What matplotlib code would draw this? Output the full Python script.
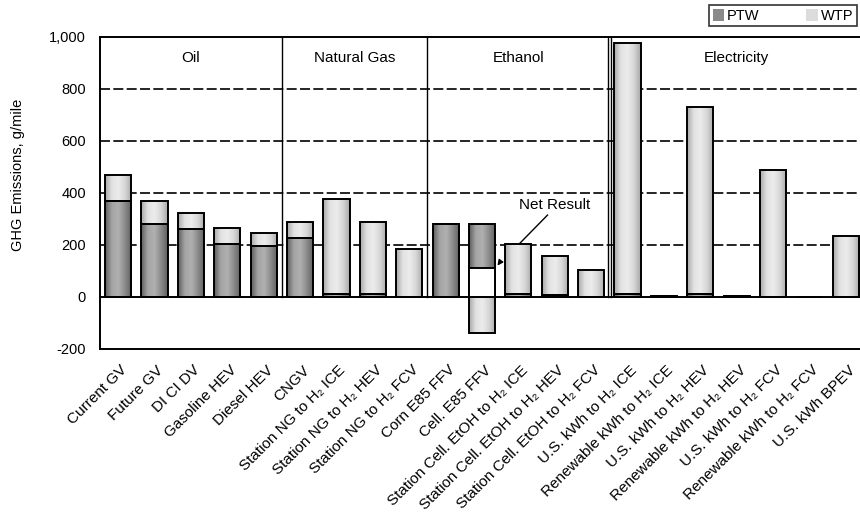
import matplotlib
matplotlib.use('Agg')
import matplotlib.pyplot as plt
import numpy as np
from matplotlib.patches import Patch
from matplotlib.colors import LinearSegmentedColormap

plt.rcParams['font.family'] = ['Liberation Sans', 'DejaVu Sans']

# Data (g/mile)
labels = ['Current GV', 'Future GV', 'DI CI DV', 'Gasoline HEV', 'Diesel HEV',
          'CNGV', 'Station NG to H₂ ICE', 'Station NG to H₂ HEV', 'Station NG to H₂ FCV',
          'Corn E85 FFV', 'Cell. E85 FFV', 'Station Cell. EtOH to H₂ ICE',
          'Station Cell. EtOH to H₂ HEV', 'Station Cell. EtOH to H₂ FCV',
          'U.S. kWh to H₂ ICE', 'Renewable kWh to H₂ ICE', 'U.S. kWh to H₂ HEV',
          'Renewable kWh to H₂ HEV', 'U.S. kWh to H₂ FCV', 'Renewable kWh to H₂ FCV',
          'U.S. kWh BPEV']
ptw = [371, 281, 261, 203, 198, 228, 10, 10, 0, 282, 282, 10, 8, 0, 10, 5, 10, 4, 0, 0, 0]
wtp = [100, 90, 63, 64, 48, 62, 367, 280, 186, 0, -140, 195, 149, 105, 968, 0, 719, 0, 489, 0, 234]
net_cell_e85 = 111
net_index = 10

groups = ['Oil', 'Natural Gas', 'Ethanol', 'Electricity']
group_bounds = [-0.5, 4.5, 8.5, 13.5, 20.5]

dark_cmap = LinearSegmentedColormap.from_list('dk', ['#5e5e5e', '#a4a4a4', '#b0b0b0', '#8a8a8a', '#5e5e5e'])
light_cmap = LinearSegmentedColormap.from_list('lt', ['#a8a8a8', '#e2e2e2', '#ececec', '#d6d6d6', '#a8a8a8'])
grad = np.linspace(0, 1, 64).reshape(1, -1)

fig = plt.figure(figsize=(8.6, 5.27), dpi=100)
ax = fig.add_axes([100 / 860, 178 / 527, 764 / 860, 312 / 527])

x = np.arange(len(labels))
w = 0.72


def shaded_bars(xs, heights, bottoms, cmap, z=3):
    bars = ax.bar(xs, heights, w, bottom=bottoms, facecolor='none',
                  edgecolor='black', linewidth=1.4, zorder=z + 1)
    for b in bars:
        if b.get_height() == 0:
            continue
        x0 = b.get_x()
        y0 = b.get_y()
        y1 = y0 + b.get_height()
        im = ax.imshow(grad, extent=[x0, x0 + b.get_width(), min(y0, y1), max(y0, y1)],
                       cmap=cmap, aspect='auto', zorder=z, interpolation='bilinear')
        im.set_clip_path(b)
    return bars


ptw_arr = np.array(ptw, dtype=float)
wtp_arr = np.array(wtp, dtype=float)
wtp_bottom = np.where(wtp_arr >= 0, ptw_arr, 0)

shaded_bars(x, ptw_arr, 0, dark_cmap)
shaded_bars(x, wtp_arr, wtp_bottom, light_cmap)

# white net-result section inside the Cell. E85 bar
ax.bar(x[net_index], net_cell_e85, w, facecolor='white', edgecolor='black',
       linewidth=1.4, zorder=6)

# grid, zero line, group dividers
for yv in [200, 400, 600, 800]:
    ax.axhline(yv, color='black', linestyle=(0, (6, 2)), linewidth=1.2, zorder=1)
ax.axhline(0, color='black', linewidth=1.4, zorder=7)
for xb in group_bounds[1:-2]:
    ax.plot([xb, xb], [0, 1000], color='black', linewidth=1.0, zorder=2)
ax.plot([13.45, 13.45], [0, 1000], color='black', linewidth=1.0, zorder=2)
ax.plot([13.55, 13.55], [0, 1000], color='black', linewidth=1.0, zorder=2)

for name, a, b in zip(groups, group_bounds[:-1], group_bounds[1:]):
    ax.text((a + b) / 2, 920, name, ha='center', va='center', fontsize=11)

# Net Result annotation
ax.text(12.0, 352, 'Net Result', ha='center', va='center', fontsize=11, zorder=8)
ax.plot([11.8, 11.05], [315, 208], color='black', linewidth=1.0, zorder=8)
ax.annotate('', xy=(10.38, 112), xytext=(10.55, 145),
            arrowprops=dict(arrowstyle='-|>', color='black', lw=1.0, mutation_scale=8), zorder=8)

ax.set_xlim(-0.5, 20.5)
ax.set_ylim(-200, 1000)
ax.set_yticks([-200, 0, 200, 400, 600, 800, 1000])
ax.set_yticklabels(['-200', '0', '200', '400', '600', '800', '1,000'], fontsize=10.5)
ax.tick_params(axis='y', length=0, pad=10)
ax.set_xticks(x)
ax.set_xticklabels(labels, rotation=45, ha='right', va='top', rotation_mode='anchor', fontsize=11)
ax.tick_params(axis='x', length=0, pad=10)
for lab in ax.get_xticklabels():
    lab.set_transform(lab.get_transform() + matplotlib.transforms.ScaledTranslation(2 / 100, 0, fig.dpi_scale_trans))
for s in ax.spines.values():
    s.set_linewidth(1.4)
ax.spines['right'].set_visible(False)

fig.text(18 / 860, 1 - 175 / 527, 'GHG Emissions, g/mile', rotation=90, ha='center', va='center', fontsize=10.5)

handles = [Patch(facecolor='#8a8a8a', edgecolor='none', label='PTW'),
           Patch(facecolor='#dcdcdc', edgecolor='none', label='WTP')]
leg = ax.legend(handles=handles, loc='upper left', bbox_to_anchor=(0.797, 1.103), ncol=2,
                frameon=True, fancybox=False, edgecolor='black', fontsize=10.5,
                handlelength=0.8, handleheight=0.9, handletextpad=0.2, columnspacing=3.2,
                borderpad=0.25, borderaxespad=0)
leg.get_frame().set_linewidth(1.2)

fig.savefig('out.png', dpi=100)
